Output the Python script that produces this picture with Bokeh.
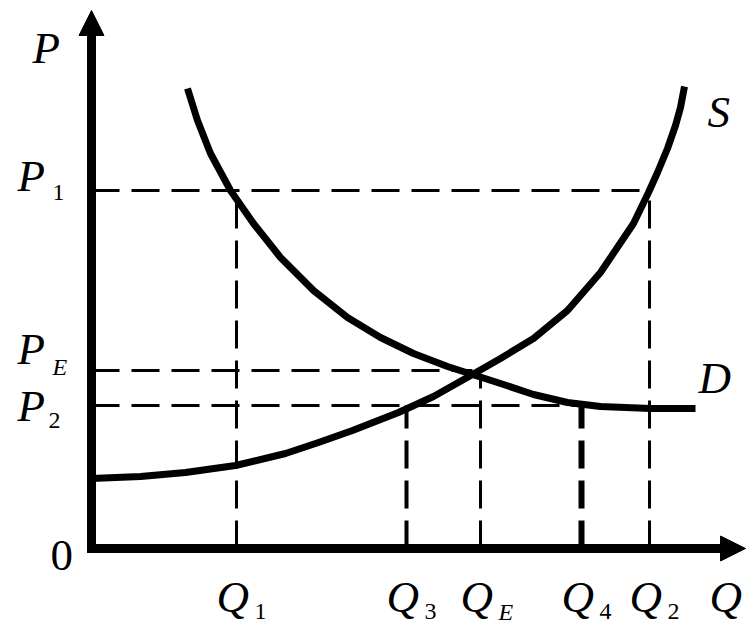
from bokeh.plotting import figure
from bokeh.models import Range1d, Arrow, NormalHead
from bokeh.core.properties import value
from bokeh.embed import file_html
from bokeh.resources import INLINE

# ---- data (Q and P in chart units) ----
supply_q = [0.0, 0.98, 1.88, 2.88, 3.88, 4.54, 5.22, 6.14, 6.84, 7.62, 8.18, 8.84, 9.52,
            10.18, 10.84, 11.14, 11.32, 11.52, 11.68, 11.78, 11.86]
supply_p = [1.40, 1.44, 1.52, 1.66, 1.90, 2.12, 2.36, 2.72, 3.04, 3.48, 3.80, 4.20, 4.76,
            5.52, 6.50, 7.12, 7.52, 8.00, 8.46, 8.82, 9.24]
demand_q = [1.92, 2.12, 2.38, 2.78, 3.24, 3.78, 4.44, 5.12, 5.78, 6.44, 7.12, 7.62,
            8.18, 8.84, 9.52, 10.18, 11.18, 12.08]
demand_p = [9.20, 8.56, 7.90, 7.16, 6.50, 5.82, 5.16, 4.62, 4.22, 3.90, 3.64, 3.48,
            3.30, 3.08, 2.92, 2.84, 2.80, 2.80]

q_names = ["Q1", "Q3", "QE", "Q4", "Q2"]
q_values = [2.90, 6.30, 7.78, 9.80, 11.16]
q_letters = ["Q", "Q", "Q", "Q", "Q"]
q_subs = ["1", "3", "E", "4", "2"]

p_names = ["P1", "PE", "P2"]
p_values = [7.16, 3.56, 2.86]
p_subs = ["1", "E", "2"]

equilibrium = (7.62, 3.48)
q_axis_max = 13.08
p_axis_max = 10.76

P1, PE, P2 = p_values
Q1, Q3, QE, Q4, Q2 = q_values
eq_q, eq_p = equilibrium

# ---- figure ----
p = figure(width=746, height=629, x_range=Range1d(-1.82, 13.10), y_range=Range1d(-1.62, 10.96),
           output_backend="svg", toolbar_location=None, x_axis_location=None,
           y_axis_location=None, min_border=0, background_fill_color="white",
           border_fill_color="white")
p.grid.visible = False
p.outline_line_color = None

# dashed guide lines
dash = "28 12"
p.segment(x0=[0, 0, 0], y0=[P1, PE, P2], x1=[Q2, eq_q, Q4], y1=[P1, PE, P2],
          line_color="black", line_width=3, line_dash=dash)
p.segment(x0=[Q1, Q2, QE], y0=[0, 0, 0], x1=[Q1, Q2, QE], y1=[P1, P1, eq_p],
          line_color="black", line_width=3, line_dash=dash)
p.segment(x0=[Q3], y0=[0], x1=[Q3], y1=[P2], line_color="black", line_width=4, line_dash=dash)
p.segment(x0=[Q4], y0=[0], x1=[Q4], y1=[P2], line_color="black", line_width=6, line_dash=dash)

# curves
p.line(supply_q, supply_p, line_color="black", line_width=7, line_join="round")
p.line(demand_q, demand_p, line_color="black", line_width=7, line_join="round")

# axes with arrows
p.add_layout(Arrow(x_start=0, y_start=-0.09, x_end=0, y_end=p_axis_max, line_width=9,
                   line_color="black",
                   end=NormalHead(size=25, fill_color="black", line_color="black", line_width=1)))
p.add_layout(Arrow(x_start=-0.09, y_start=0, x_end=q_axis_max, y_end=0, line_width=9,
                   line_color="black",
                   end=NormalHead(size=25, fill_color="black", line_color="black", line_width=1)))

font = value("Liberation Serif")
big = "45px"
small = "24px"

def sub_styles(subs):
    return ["normal" if s.isdigit() else "italic" for s in subs]

# Q labels on the horizontal axis
p.text(x=q_values, y=[0] * 5, text=q_letters, text_font=font, text_font_size=big,
       text_font_style="italic", text_align="left", text_baseline="alphabetic",
       x_offset=-20, y_offset=48, text_color="black")
p.text(x=q_values, y=[0] * 5, text=q_subs, text_font=font, text_font_size=small,
       text_font_style=sub_styles(q_subs), text_align="left",
       text_baseline="alphabetic", x_offset=18, y_offset=63, text_color="black")

# P labels on the vertical axis
p_main_dy = [-15, -22, 0]
p_sub_dy = [2, -4, 15]
p_sub_dx = [-39, -39, -43]
p.text(x=[0] * 3, y=p_values, text=["P"] * 3, text_font=font, text_font_size=big,
       text_font_style="italic", text_align="left", text_baseline="alphabetic",
       x_offset=-74, y_offset=p_main_dy, text_color="black")
p.text(x=[0] * 3, y=p_values, text=p_subs, text_font=font, text_font_size=small,
       text_font_style=sub_styles(p_subs), text_align="left", text_baseline="alphabetic",
       x_offset=p_sub_dx, y_offset=p_sub_dy, text_color="black")

# axis names, origin, curve names
p.text(x=[0], y=[p_axis_max], text=["P"], text_font=font, text_font_size=big,
       text_font_style="italic", text_align="left", text_baseline="alphabetic",
       x_offset=-59, y_offset=37, text_color="black")
p.text(x=[q_axis_max], y=[0], text=["Q"], text_font=font, text_font_size=big,
       text_font_style="italic", text_align="left", text_baseline="alphabetic",
       x_offset=-36, y_offset=48, text_color="black")
p.text(x=[0], y=[0], text=["0"], text_font=font, text_font_size=big,
       text_align="left", text_baseline="alphabetic",
       x_offset=-41, y_offset=7, text_color="black")
p.text(x=[supply_q[-1]], y=[supply_p[-1]], text=["S"], text_font=font, text_font_size=big,
       text_font_style="italic", text_align="left", text_baseline="alphabetic",
       x_offset=23, y_offset=25, text_color="black")
p.text(x=[demand_q[-1]], y=[demand_p[-1]], text=["D"], text_font=font, text_font_size=big,
       text_font_style="italic", text_align="left", text_baseline="alphabetic",
       x_offset=3, y_offset=-31, text_color="black")

open("out.html", "w").write(file_html(p, INLINE))
